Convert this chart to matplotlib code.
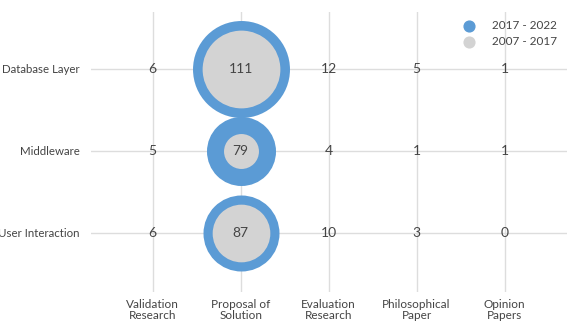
import matplotlib.pyplot as plt
import numpy as np

plt.rcParams['font.family'] = ['Lato', 'DejaVu Sans']

layers = ["Database Layer", "Middleware", "User Interaction"]
research_types = ["Validation\nResearch", "Proposal of\nSolution", "Evaluation\nResearch",
                  "Philosophical\nPaper", "Opinion\nPapers"]

# counts shown in the cells (2017 - 2022 bubbles)
recent = [
    [6, 111, 12, 5, 1],
    [5, 79, 4, 1, 1],
    [6, 87, 10, 3, 0],
]
# inner bubbles (2007 - 2017)
older = [
    [0, 89, 0, 0, 0],
    [0, 40, 0, 0, 0],
    [0, 66, 0, 0, 0],
]

blue = "#5b9bd5"
grey = "#d3d3d3"
text_col = "#444444"
min_shown = 20  # small counts get no bubble in the original
scale = 0.629   # bubble diameter in points per paper

fig = plt.figure(figsize=(5.7, 3.32), dpi=100)
ax = fig.add_axes([90.7 / 570, 40 / 332, (567 - 90.7) / 570, (320 - 40) / 332])

recent = np.array(recent)
older = np.array(older)
for r in range(len(layers)):
    for c in range(len(research_types)):
        if recent[r, c] >= min_shown:
            ax.scatter(c, r, s=(recent[r, c] * scale) ** 2, color=blue, zorder=3, linewidths=0)
        if older[r, c] >= min_shown:
            ax.scatter(c, r, s=(older[r, c] * scale) ** 2, color=grey, zorder=4, linewidths=0)
        ax.text(c, r, str(recent[r, c]), ha='center', va='center', fontsize=10,
                color=text_col, zorder=5)

# legend handles
ax.scatter([], [], s=60, color=blue, label="2017 - 2022")
ax.scatter([], [], s=60, color=grey, label="2007 - 2017")
leg = ax.legend(loc='upper right', bbox_to_anchor=(1.005, 1.015), frameon=False, fontsize=8.5,
                handletextpad=1.0, labelspacing=0.45, borderpad=0.5)
for t in leg.get_texts():
    t.set_color(text_col)

ax.set_xlim(-0.705, 4.71)
ax.set_ylim(2.72, -0.69)
ax.set_xticks(range(len(research_types)))
ax.set_xticklabels(research_types, fontsize=8.5, color=text_col, linespacing=1.05)
ax.set_yticks(range(len(layers)))
ax.set_yticklabels(layers, fontsize=8.3, color=text_col)
ax.tick_params(axis='y', length=0, pad=8)
ax.tick_params(axis='x', length=0, pad=5)
ax.grid(True, color="#dddddd", linewidth=1)
ax.set_axisbelow(True)
for s in ax.spines.values():
    s.set_visible(False)

fig.savefig("out.png", dpi=100)
